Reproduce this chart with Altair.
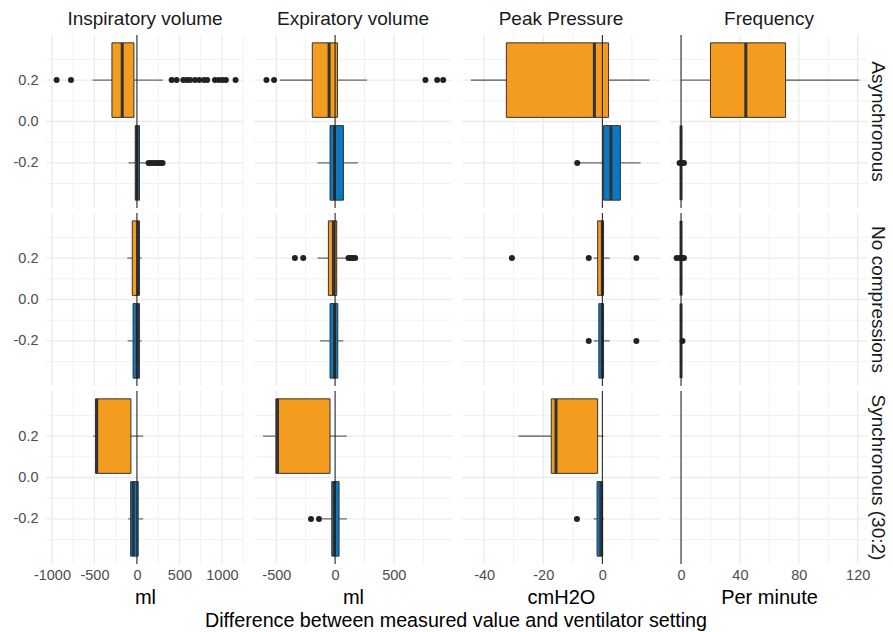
import altair as alt
import pandas as pd

# ---- labels -------------------------------------------------------------
ROW_LABELS = ["Asynchronous", "No compressions", "Synchronous (30:2)"]
COL_LABELS = ["Inspiratory volume", "Expiratory volume", "Peak Pressure", "Frequency"]
UNITS = ["ml", "ml", "cmH2O", "Per minute"]
X_TITLE = "Difference between measured value and ventilator setting"

# ---- axes ---------------------------------------------------------------
X_DOMAINS = [[-1070, 1260], [-690, 995], [-47.5, 19.5], [-7.5, 127]]
X_MAJOR = [[-1000, -500, 0, 500, 1000], [-500, 0, 500], [-40, -20, 0], [0, 40, 80, 120]]
X_MINOR = [[-750, -250, 250, 750, 1250], [-250, 250, 750], [-30, -10, 10], [20, 60, 100]]
Y_DOMAIN = [-0.418, 0.418]
Y_MAJOR = [-0.2, 0.0, 0.2]
Y_MINOR = [-0.3, -0.1, 0.1, 0.3]

# ---- series -------------------------------------------------------------
SERIES = ["upper", "lower"]
SERIES_POS = [0.2, -0.2]
SERIES_FILL = ["#F39C1F", "#0A78C2"]

# box statistics per row x column: (lower whisker, Q1, median, Q3, upper whisker)
UPPER_STATS = [
    [(-521, -294, -173, -35, 306), (-470, -194, -51, 20, 271),
     (-44.5, -32.5, -2.7, 2.1, 15.9), (0, 20, 44, 71, 121)],
    [(-114, -55, 10, 30, 55), (-148, -57, -14, 14, 100),
     (-3, -1.6, 0, 0.4, 2.5), (0, 0, 0, 0, 0)],
    [(-514, -486, -474, -71, 74), (-613, -504, -490, -43, 100),
     (-28.4, -17.3, -15.7, -1.6, 0.4), None],
]
LOWER_STATS = [
    [(-100, -20, 0, 30, 110), (-151, -43, -5, 71, 194),
     (-8, 0.4, 2.9, 6.1, 12.9), (0, 0, 0, 0, 0)],
    [(-110, -45, 5, 30, 55), (-128, -43, -5, 23, 71),
     (-3, -1.2, 0, 0.4, 2.5), (0, 0, 0, 0, 0)],
    [(-102, -74, -43, 15, 74), (-110, -28, -6, 34, 100),
     (-2.9, -1.8, -0.5, 0.1, 0.4), None],
]
UPPER_OUTLIERS = [
    [[-945, -776, 408, 467, 545, 585, 624, 682, 733, 788, 827, 918, 965, 1008, 1047, 1161],
     [-584, -519, 769, 869, 920], [], []],
    [[], [-342, -271, 114, 130, 150, 171], [-30.6, -4.6, 11.5], [-3, -1, 1, 2]],
    [[], [], [], []],
]
LOWER_OUTLIERS = [
    [[137, 165, 195, 225, 255, 280, 302], [], [-8.5], [-1, 1, 2]],
    [[], [], [-4.6, 11.5], [1]],
    [[], [-205, -137], [-8.6], []],
]

# ---- styling ------------------------------------------------------------
PANEL_W, PANEL_H = 198, 173
BOX_HALF = 0.18
GRID_COLOR = "#EBEBEB"
INK = "#333333"
FONT = "Liberation Sans"


def stats_frame(r, c):
    recs = []
    for name, pos, table in zip(SERIES, SERIES_POS, (UPPER_STATS, LOWER_STATS)):
        s = table[r][c]
        if s is None:
            continue
        lo, q1, med, q3, hi = s
        recs.append(dict(series=name, pos=pos, lo=lo, q1=q1, med=med, q3=q3, hi=hi))
    return pd.DataFrame(recs)


def outlier_frame(r, c):
    recs = []
    for name, pos, table in zip(SERIES, SERIES_POS, (UPPER_OUTLIERS, LOWER_OUTLIERS)):
        for v in table[r][c]:
            recs.append(dict(series=name, pos=pos, value=v))
    return pd.DataFrame(recs)


def panel(r, c):
    bottom = r == len(ROW_LABELS) - 1
    left = c == 0
    right = c == len(COL_LABELS) - 1

    x_scale = alt.Scale(domain=X_DOMAINS[c], nice=False, zero=False)
    y_scale = alt.Scale(domain=Y_DOMAIN, nice=False, zero=False)

    x_axis = None
    if bottom:
        x_axis = alt.Axis(values=X_MAJOR[c], labelExpr="'' + datum.value", grid=False,
                          domain=False, ticks=False, labelPadding=4,
                          labelFontSize=14.5, labelColor="#4D4D4D", labelOverlap=False,
                          title=UNITS[c], titleFontSize=20, titleFontWeight="normal",
                          titleColor="#000000", titlePadding=6)
    y_axis = None
    if left:
        y_axis = alt.Axis(values=Y_MAJOR,
                          labelExpr="replace(format(datum.value, '.1f'), '\u2212', '-')",
                          grid=False, domain=False, ticks=False, labelPadding=8,
                          labelFontSize=14.5, labelColor="#4D4D4D", title=None)

    def X(field):
        return alt.X(f"{field}:Q", scale=x_scale, axis=x_axis)

    def Y(field):
        return alt.Y(f"{field}:Q", scale=y_scale, axis=y_axis)

    layers = []
    # background grid
    layers.append(alt.Chart(pd.DataFrame({"v": X_MINOR[c]})).mark_rule(
        color=GRID_COLOR, strokeWidth=0.7, clip=True).encode(x=X("v")))
    layers.append(alt.Chart(pd.DataFrame({"v": Y_MINOR})).mark_rule(
        color=GRID_COLOR, strokeWidth=0.7, clip=True).encode(y=Y("v")))
    layers.append(alt.Chart(pd.DataFrame({"v": X_MAJOR[c]})).mark_rule(
        color=GRID_COLOR, strokeWidth=1.3, clip=True).encode(x=X("v")))
    layers.append(alt.Chart(pd.DataFrame({"v": Y_MAJOR})).mark_rule(
        color=GRID_COLOR, strokeWidth=1.3, clip=True).encode(y=Y("v")))

    stats = stats_frame(r, c)
    if len(stats):
        base = alt.Chart(stats).transform_calculate(
            ylo=f"datum.pos - {BOX_HALF}", yhi=f"datum.pos + {BOX_HALF}")
        layers.append(base.mark_rule(color="#555555", strokeWidth=1.1).encode(
            x=X("lo"), x2="q1:Q", y=Y("pos")))
        layers.append(base.mark_rule(color="#555555", strokeWidth=1.1).encode(
            x=X("q3"), x2="hi:Q", y=Y("pos")))
        layers.append(base.mark_rect(stroke=INK, strokeWidth=1).encode(
            x=X("q1"), x2="q3:Q", y=Y("ylo"), y2="yhi:Q",
            fill=alt.Fill("series:N", scale=alt.Scale(domain=SERIES, range=SERIES_FILL),
                          legend=None)))
        layers.append(base.mark_rule(color=INK, strokeWidth=3).encode(
            x=X("med"), y=Y("ylo"), y2="yhi:Q"))

    outs = outlier_frame(r, c)
    if len(outs):
        layers.append(alt.Chart(outs).mark_circle(size=36, opacity=1, color="#222222").encode(
            x=X("value"), y=Y("pos")))

    # reference line at zero difference
    layers.append(alt.Chart(pd.DataFrame({"ref": [0]})).mark_rule(
        color="#1A1A1A", strokeWidth=1).encode(x=X("ref")))

    if right:
        layers.append(alt.Chart(pd.DataFrame({"label": [ROW_LABELS[r]]})).mark_text(
            angle=90, fontSize=19, color="#1A1A1A", align="center", baseline="middle"
        ).encode(text="label:N", x=alt.value(PANEL_W + 10), y=alt.value(PANEL_H / 2)))

    props = dict(width=PANEL_W, height=PANEL_H)
    if r == 0:
        props["title"] = alt.TitleParams(COL_LABELS[c], fontSize=19, fontWeight="normal",
                                         color="#1A1A1A", offset=6)
    return alt.layer(*layers).properties(**props)


rows = [alt.hconcat(*[panel(r, c) for c in range(len(COL_LABELS))], spacing=10)
        for r in range(len(ROW_LABELS))]

chart = alt.vconcat(*rows, spacing=3).properties(
    title=alt.TitleParams(X_TITLE, orient="bottom", anchor="middle", fontSize=19.7,
                          fontWeight="normal", color="#000000", offset=3, dx=6),
    padding={"left": 13, "top": 9, "right": 4, "bottom": 0},
).configure(font=FONT).configure_view(stroke=None)

chart.save("out.html", embed_options={"renderer": "svg", "actions": False})
